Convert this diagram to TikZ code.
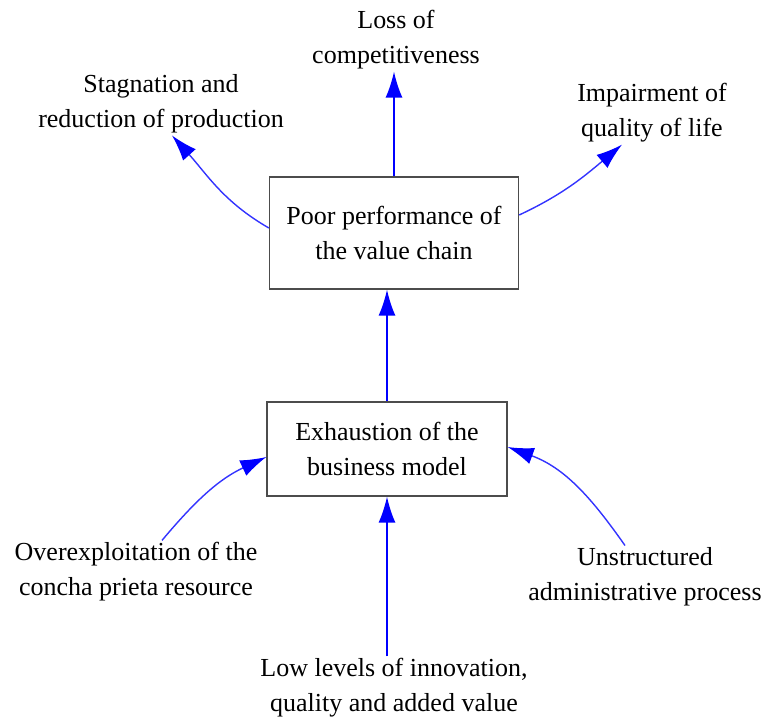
\documentclass[tikz,border=0pt]{standalone}
\usepackage{fontspec}
\setmainfont{Liberation Serif}
\usetikzlibrary{arrows.meta}
\begin{document}
\begin{tikzpicture}[x=1pt,y=-1pt,
  lbl/.style={align=center,inner sep=2pt,font=\fontsize{26}{35}\selectfont},
  boxn/.style={lbl,draw=black!70,line width=1.3pt,inner sep=0pt},
  arr/.style={color=blue,line width=1.5pt,-{Latex[length=26pt,width=17pt]}},
  carr/.style={color=blue!80,line width=1.4pt,-{Latex[length=26pt,width=17pt,fill=blue,color=blue]}}]
\useasboundingbox (0,0) rectangle (764,720);
\node[boxn,minimum width=249pt,minimum height=112pt] (b1) at (394,233) {Poor performance of\\the value chain};
\node[boxn,minimum width=240pt,minimum height=94pt] (b2) at (387,449) {Exhaustion of the\\business model};
\node[lbl] (loss) at (396,40) {Loss of\\competitiveness};
\node[lbl] (stag) at (161,104) {Stagnation and\\reduction of production};
\node[lbl] (imp) at (652,113) {Impairment of\\quality of life};
\node[lbl] (over) at (136,572) {Overexploitation of the\\concha prieta resource};
\node[lbl] (uns) at (645,577) {Unstructured\\administrative process};
\node[lbl] (low) at (394,688) {Low levels of innovation,\\quality and added value};
\draw[arr] (b2.north) -- (b2.north |- b1.south);
\draw[arr] (b1.north) -- (b1.north |- loss.south);
\draw[carr] ([yshift=5pt]b1.west) to[out=150,in=-48] ([xshift=11pt]stag.south);
\draw[carr] ([yshift=18pt]b1.east) to[out=25,in=-140] ([xshift=-30pt]imp.south);
\draw[carr] ([xshift=26pt]over.north) to[out=50,in=205] ([yshift=-8pt]b2.west);
\draw[carr] ([xshift=-20pt]uns.north) to[out=125,in=-20] ([yshift=2pt]b2.east);
\draw[arr] (b2.south |- low.north) -- (b2.south);
\end{tikzpicture}
\end{document}
